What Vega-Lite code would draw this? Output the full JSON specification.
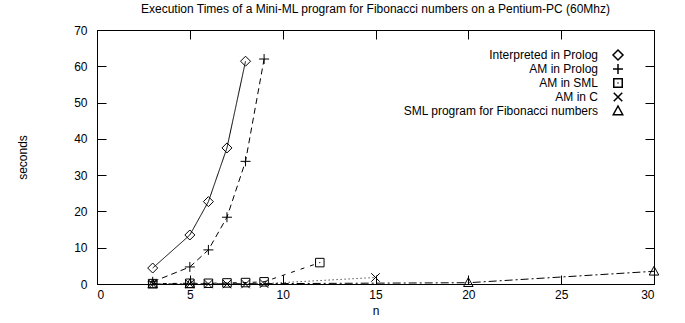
{
  "$schema": "https://vega.github.io/schema/vega-lite/v6.json",
  "width": 557,
  "height": 254,
  "autosize": {"type": "none"},
  "padding": {"left": 97, "top": 30, "right": 31, "bottom": 39},
  "title": {"text": "Execution Times of a Mini-ML program for Fibonacci numbers on a Pentium-PC (60Mhz)", "fontSize": 12, "fontWeight": "normal", "font": "Liberation Sans", "color": "black", "offset": 8},
  "config": {
    "font": "Liberation Sans",
    "view": {"stroke": "black", "strokeWidth": 1},
    "axis": {"grid": false, "domainColor": "black", "tickColor": "black", "labelColor": "black", "titleColor": "black", "labelFontSize": 12, "titleFontSize": 12, "titleFontWeight": "normal", "tickSize": -9, "labelFont": "Liberation Sans", "titleFont": "Liberation Sans"}
  },
  "data": {"values": [
    {"series": "Interpreted in Prolog", "n": 3, "t": 4.4},
    {"series": "Interpreted in Prolog", "n": 5, "t": 13.5},
    {"series": "Interpreted in Prolog", "n": 6, "t": 22.7},
    {"series": "Interpreted in Prolog", "n": 7, "t": 37.5},
    {"series": "Interpreted in Prolog", "n": 8, "t": 61.4},
    {"series": "AM in Prolog", "n": 3, "t": 0.6},
    {"series": "AM in Prolog", "n": 5, "t": 4.7},
    {"series": "AM in Prolog", "n": 6, "t": 9.4},
    {"series": "AM in Prolog", "n": 7, "t": 18.4},
    {"series": "AM in Prolog", "n": 8, "t": 33.8},
    {"series": "AM in Prolog", "n": 9, "t": 62},
    {"series": "AM in SML", "n": 3, "t": 0.1},
    {"series": "AM in SML", "n": 5, "t": 0.2},
    {"series": "AM in SML", "n": 6, "t": 0.2},
    {"series": "AM in SML", "n": 7, "t": 0.3},
    {"series": "AM in SML", "n": 8, "t": 0.4},
    {"series": "AM in SML", "n": 9, "t": 0.6},
    {"series": "AM in SML", "n": 12, "t": 5.9},
    {"series": "AM in C", "n": 3, "t": 0},
    {"series": "AM in C", "n": 5, "t": 0},
    {"series": "AM in C", "n": 6, "t": 0},
    {"series": "AM in C", "n": 7, "t": 0},
    {"series": "AM in C", "n": 8, "t": 0},
    {"series": "AM in C", "n": 9, "t": 0.1},
    {"series": "AM in C", "n": 15, "t": 1.8},
    {"series": "SML program for Fibonacci numbers", "n": 3, "t": 0},
    {"series": "SML program for Fibonacci numbers", "n": 5, "t": 0},
    {"series": "SML program for Fibonacci numbers", "n": 20, "t": 0.35},
    {"series": "SML program for Fibonacci numbers", "n": 30, "t": 3.5}
  ]},
  "layer": [
    {
      "mark": {"type": "line", "stroke": "black", "strokeWidth": 1},
      "encoding": {
        "x": {"field": "n", "type": "quantitative", "scale": {"domain": [0, 30], "nice": false}, "axis": {"orient": "bottom", "title": "n", "values": [0, 5, 10, 15, 20, 25, 30], "labelPadding": 14, "titlePadding": 5}},
        "y": {"field": "t", "type": "quantitative", "scale": {"domain": [0, 70], "nice": false}, "axis": {"orient": "left", "title": "seconds", "values": [0, 10, 20, 30, 40, 50, 60, 70], "labelPadding": 19, "titlePadding": 44}},
        "detail": {"field": "series", "type": "nominal"},
        "strokeDash": {"field": "series", "type": "nominal", "scale": {"domain": ["AM in C", "AM in Prolog", "AM in SML", "Interpreted in Prolog", "SML program for Fibonacci numbers"], "range": [[1, 3], [6, 4], [4, 6], [1, 0], [8, 3, 2, 3]]}, "legend": null}
      }
    },
    {
      "mark": {"type": "point", "filled": false, "stroke": "black", "strokeWidth": 1, "opacity": 1, "size": 100},
      "encoding": {
        "x": {"field": "n", "type": "quantitative", "axis": {"orient": "top", "title": null, "labelExpr": "''", "values": [0, 5, 10, 15, 20, 25, 30]}},
        "y": {"field": "t", "type": "quantitative", "axis": {"orient": "right", "title": null, "labelExpr": "''", "values": [0, 10, 20, 30, 40, 50, 60, 70]}},
        "shape": {"field": "series", "type": "nominal", "scale": {"domain": ["Interpreted in Prolog", "AM in Prolog", "AM in SML", "AM in C", "SML program for Fibonacci numbers"], "range": ["M0,-1L1,0L0,1L-1,0Z", "M-1,0H1M0,-1V1", "M-0.85,-0.85H0.85V0.85H-0.85ZM-0.1,0H0.1", "M-0.85,-0.85L0.85,0.85M-0.85,0.85L0.85,-0.85", "M0,-1L0.95,0.75H-0.95Z"]},
          "legend": {"title": null, "orient": "none", "legendX": 515, "legendY": 19, "labelFontSize": 12, "labelColor": "black", "labelAlign": "right", "labelOffset": -26, "labelLimit": 400, "rowPadding": -2, "symbolSize": 100, "symbolStrokeColor": "black", "symbolFillColor": "transparent"}
        }
      }
    }
  ],
  "resolve": {"axis": {"x": "independent", "y": "independent"}}
}
